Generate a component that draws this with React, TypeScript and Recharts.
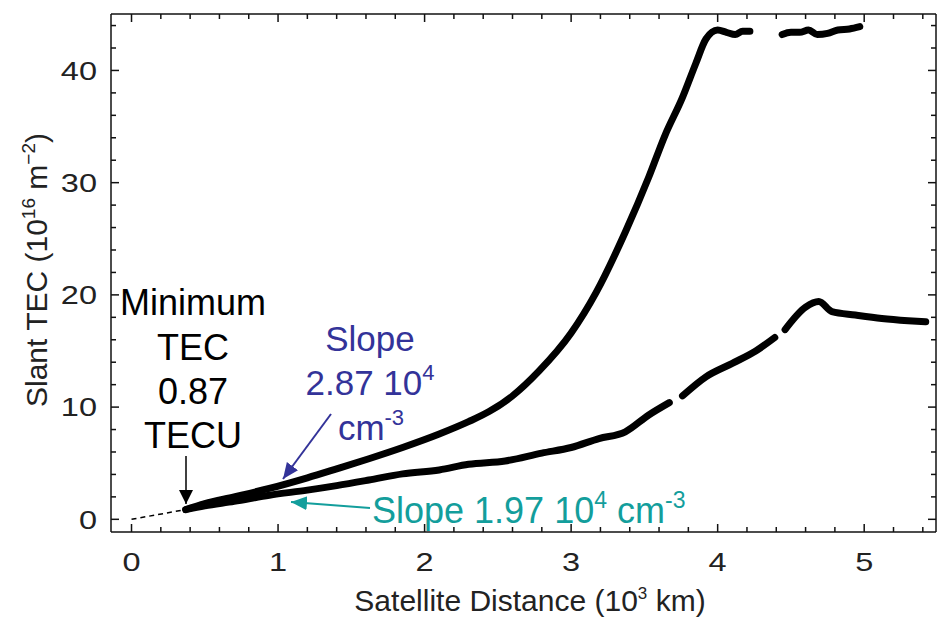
import React from "react";
import { LineChart, Line, XAxis, YAxis } from "recharts";

// Slant TEC vs satellite distance, two passes
const upperDist = [0.37, 0.5, 0.7, 0.94, 1.2, 1.4, 1.62, 1.85, 2.1, 2.3, 2.44, 2.6, 2.78, 3.0, 3.17, 3.37, 3.53, 3.64, 3.76, 3.85, 3.92, 4.0, 4.06, 4.12, 4.17, 4.22, 4.33, 4.44, 4.5, 4.56, 4.62, 4.68, 4.75, 4.82, 4.9, 4.97];
const upperTec = [0.87, 1.4, 2.0, 2.75, 3.7, 4.5, 5.4, 6.4, 7.6, 8.7, 9.6, 11.0, 13.2, 16.6, 20.2, 25.6, 30.5, 34.2, 37.6, 40.6, 42.8, 43.6, 43.4, 43.2, 43.5, 43.5, null, 43.2, 43.4, 43.4, 43.6, 43.2, 43.3, 43.6, 43.7, 43.9];

const lowerDist = [0.37, 0.5, 0.7, 0.94, 1.2, 1.4, 1.62, 1.85, 2.1, 2.3, 2.55, 2.8, 3.0, 3.19, 3.37, 3.53, 3.67, 3.72, 3.76, 3.92, 4.1, 4.26, 4.39, 4.42, 4.46, 4.6, 4.69, 4.78, 4.94, 5.12, 5.3, 5.42];
const lowerTec = [0.87, 1.2, 1.6, 2.15, 2.6, 3.0, 3.5, 4.05, 4.4, 4.9, 5.2, 5.9, 6.4, 7.2, 7.8, 9.3, 10.4, null, 11.0, 12.7, 13.9, 15.0, 16.2, null, 16.9, 18.9, 19.4, 18.5, 18.2, 17.9, 17.7, 17.6];

// extrapolation down to the origin (minimum TEC)
const extrapDist = [0, 0.37];
const extrapTec = [0, 0.87];

const xTicks = [0, 0.2, 0.4, 0.6, 0.8, 1, 1.2, 1.4, 1.6, 1.8, 2, 2.2, 2.4, 2.6, 2.8, 3, 3.2, 3.4, 3.6, 3.8, 4, 4.2, 4.4, 4.6, 4.8, 5, 5.2, 5.4];
const yTicks = [0, 2, 4, 6, 8, 10, 12, 14, 16, 18, 20, 22, 24, 26, 28, 30, 32, 34, 36, 38, 40, 42, 44];

const zip = (xs: number[], ys: (number | null)[]) => xs.map((d, i) => ({ dist: d, tec: ys[i] }));
const upperData = zip(upperDist, upperTec);
const lowerData = zip(lowerDist, lowerTec);
const extrapData = zip(extrapDist, extrapTec);

const FONT = "'Liberation Sans', Arial, Helvetica, sans-serif";
const INK = "#111";
const BLUE = "#333399";
const TEAL = "#139e9c";

const X_DOMAIN: [number, number] = [-0.14, 5.49];
const Y_DOMAIN: [number, number] = [-1.13, 45.03];
// plot box that recharts ends up with for the margins / axis sizes below
const PL = 111, PR = 936, PT = 14, PB = 532;
const sx = (v: number) => PL + ((v - X_DOMAIN[0]) / (X_DOMAIN[1] - X_DOMAIN[0])) * (PR - PL);
const sy = (v: number) => PB - ((v - Y_DOMAIN[0]) / (Y_DOMAIN[1] - Y_DOMAIN[0])) * (PB - PT);

const isMajor = (v: number, step: number) => Math.abs(v / step - Math.round(v / step)) < 1e-6;

const BottomTick = (p: any) => {
  const v = p.payload.value;
  if (!isMajor(v, 1)) return <g />;
  return (
    <text transform={`translate(${p.x},${p.y + 18.6}) scale(1.25,1)`} textAnchor="middle" fontSize={26} fontFamily={FONT} fill="#222">
      {Math.round(v)}
    </text>
  );
};

const LeftTick = (p: any) => {
  const v = p.payload.value;
  if (!isMajor(v, 10)) return <g />;
  return (
    <text transform={`translate(${p.x},${p.y + 9.2}) scale(1.25,1)`} textAnchor="end" fontSize={26} fontFamily={FONT} fill="#222">
      {Math.round(v)}
    </text>
  );
};

const NoLabel = () => <g />;

const axisLine = { stroke: INK, strokeWidth: 1.5 };

// inward tick marks on all four sides of the frame
const FrameTicks = () => (
  <g stroke={INK} strokeWidth={1.5}>
    {xTicks.map((v) => {
      const len = isMajor(v, 1) ? 8 : 5;
      const x = sx(v);
      return (
        <g key={`x${v}`}>
          <line x1={x} x2={x} y1={PB} y2={PB - len} />
          <line x1={x} x2={x} y1={PT} y2={PT + len} />
        </g>
      );
    })}
    {yTicks.map((v) => {
      const len = isMajor(v, 10) ? 8 : 5;
      const y = sy(v);
      return (
        <g key={`y${v}`}>
          <line x1={PL} x2={PL + len} y1={y} y2={y} />
          <line x1={PR} x2={PR - len} y1={y} y2={y} />
        </g>
      );
    })}
  </g>
);

const Annotations = () => (
  <svg width={943} height={617} style={{ position: "absolute", left: 0, top: 0, pointerEvents: "none" }} fontFamily={FONT}>
    <defs>
      <marker id="hk" markerWidth="16" markerHeight="16" refX="14" refY="7" orient="auto" markerUnits="userSpaceOnUse">
        <path d="M0,0 L14,7 L0,14 z" fill="#000" />
      </marker>
      <marker id="hb" markerWidth="18" markerHeight="18" refX="16" refY="7" orient="auto" markerUnits="userSpaceOnUse">
        <path d="M0,0 L16,7 L0,14 z" fill={BLUE} />
      </marker>
      <marker id="ht" markerWidth="18" markerHeight="18" refX="16" refY="7" orient="auto" markerUnits="userSpaceOnUse">
        <path d="M0,0 L16,7 L0,14 z" fill={TEAL} />
      </marker>
    </defs>

    <FrameTicks />

    {/* axis titles */}
    <text x={530} y={611} textAnchor="middle" fontSize={30} fill="#222">
      Satellite Distance (10<tspan dy={-12} fontSize={17}>3</tspan><tspan dy={12}> km)</tspan>
    </text>
    <text transform="translate(47,270) rotate(-90)" textAnchor="middle" fontSize={30} fill="#222">
      Slant TEC (10<tspan dy={-12} fontSize={19}>16</tspan><tspan dy={12}> m</tspan><tspan dy={-12} fontSize={19}>−2</tspan><tspan dy={12}>)</tspan>
    </text>

    {/* minimum TEC note */}
    <g fontSize={36} fill="#000" textAnchor="middle">
      <text x={193} y={315}>Minimum</text>
      <text x={193} y={360}>TEC</text>
      <text x={193} y={404}>0.87</text>
      <text x={193} y={448}>TECU</text>
    </g>
    <line x1={186} y1={456} x2={186} y2={504} stroke="#000" strokeWidth={1.5} markerEnd="url(#hk)" />

    {/* upper slope */}
    <g fontSize={35} fill={BLUE} textAnchor="middle">
      <text x={370} y={351}>Slope</text>
      <text x={370} y={395}>2.87 10<tspan dy={-15} fontSize={22}>4</tspan></text>
      <text x={371} y={440}>cm<tspan dy={-15} fontSize={22}>-3</tspan></text>
    </g>
    <line x1={331} y1={414} x2={283} y2={479} stroke={BLUE} strokeWidth={2} markerEnd="url(#hb)" />

    {/* lower slope */}
    <text x={372} y={523} fontSize={36} fill={TEAL}>
      Slope 1.97 10<tspan dy={-15} fontSize={23}>4</tspan><tspan dy={15}> cm</tspan><tspan dy={-15} fontSize={23}>-3</tspan>
    </text>
    <line x1={370} y1={508} x2={291} y2={502} stroke={TEAL} strokeWidth={2} markerEnd="url(#ht)" />
  </svg>
);

export default function App() {
  return (
    <div style={{ position: "absolute", left: 0, top: 0, width: 943, height: 617, background: "#fff" }}>
      <LineChart width={943} height={617} margin={{ top: 13, right: 6, bottom: 0, left: 0 }}>
        <XAxis
          xAxisId="b" dataKey="dist" type="number" domain={X_DOMAIN} allowDataOverflow
          ticks={xTicks} interval={0} height={85} tickSize={0} tickMargin={20}
          tickLine={false} axisLine={axisLine} tick={<BottomTick />}
        />
        <XAxis
          xAxisId="t" dataKey="dist" orientation="top" type="number" domain={X_DOMAIN} allowDataOverflow
          ticks={xTicks} interval={0} height={1} tickSize={0} tickMargin={0}
          tickLine={false} axisLine={axisLine} tick={<NoLabel />}
        />
        <YAxis
          yAxisId="l" type="number" domain={Y_DOMAIN} allowDataOverflow
          ticks={yTicks} interval={0} width={111} tickSize={0} tickMargin={14}
          tickLine={false} axisLine={axisLine} tick={<LeftTick />}
        />
        <YAxis
          yAxisId="r" orientation="right" type="number" domain={Y_DOMAIN} allowDataOverflow
          ticks={yTicks} interval={0} width={1} tickSize={0} tickMargin={0}
          tickLine={false} axisLine={axisLine} tick={<NoLabel />}
        />
        {/* invisible carrier so the top / right frame axes are drawn */}
        <Line
          xAxisId="t" yAxisId="r" data={extrapData} dataKey="tec" stroke="none" dot={false}
          activeDot={false} legendType="none" isAnimationActive={false}
        />
        <Line
          xAxisId="b" yAxisId="l" data={extrapData} dataKey="tec" stroke="#000" strokeWidth={1.5}
          strokeDasharray="5 4" dot={false} isAnimationActive={false}
        />
        <Line
          xAxisId="b" yAxisId="l" type="monotone" data={lowerData} dataKey="tec" stroke="#000" strokeWidth={7}
          strokeLinecap="round" strokeLinejoin="round" dot={false} connectNulls={false} isAnimationActive={false}
        />
        <Line
          xAxisId="b" yAxisId="l" type="monotone" data={upperData} dataKey="tec" stroke="#000" strokeWidth={7}
          strokeLinecap="round" strokeLinejoin="round" dot={false} connectNulls={false} isAnimationActive={false}
        />
      </LineChart>
      <Annotations />
    </div>
  );
}
